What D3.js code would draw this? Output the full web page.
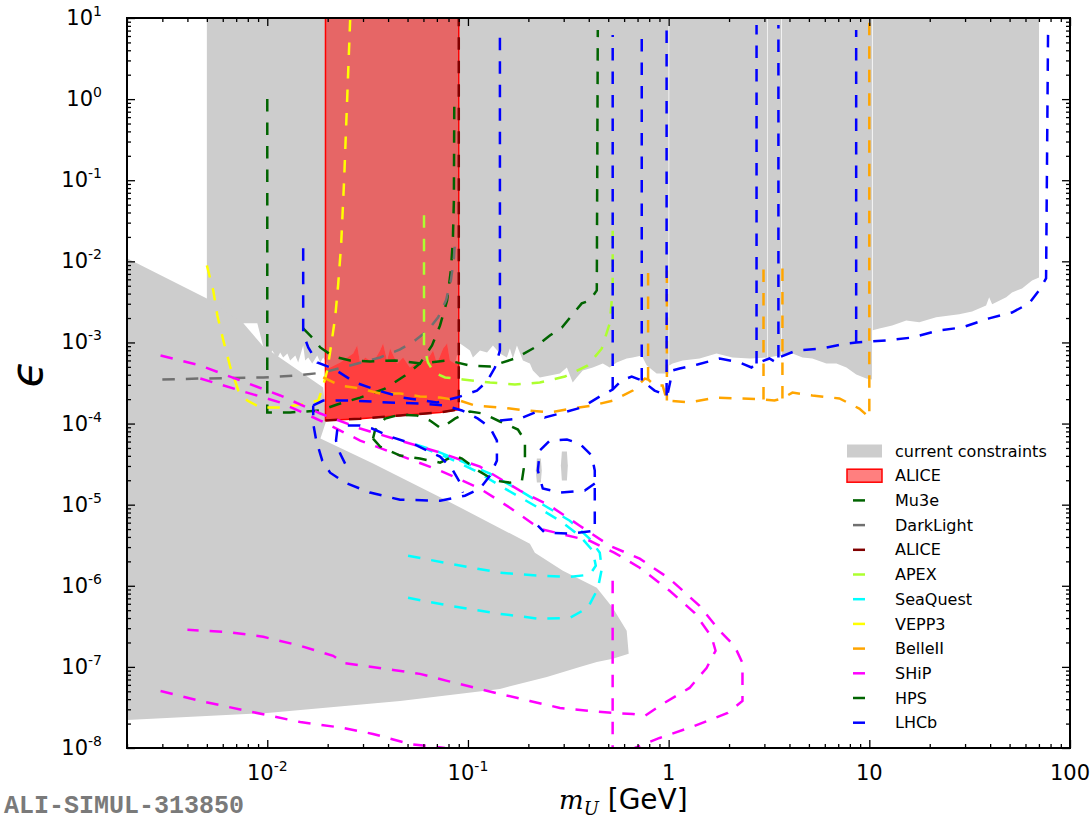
<!DOCTYPE html>
<html>
<head>
<meta charset="utf-8">
<script src="https://cdn.jsdelivr.net/npm/d3@7/dist/d3.min.js"></script>
<style>
  body { margin: 0; background: #fff; }
  svg { display: block; font-family: "DejaVu Sans", sans-serif; }
</style>
</head>
<body>
<div id="chart"></div>
<script>
// axis ranges and ticks
var massRange = [0.002, 100];
var epsRange = [1e-8, 10];
var xTicks = [0.01, 0.1, 1, 10, 100];
var xTickText = ["10^-2", "10^-1", "1", "10", "100"];
var yTicks = [1e1, 1e0, 1e-1, 1e-2, 1e-3, 1e-4, 1e-5, 1e-6, 1e-7, 1e-8];
var yTickText = ["10^1", "10^0", "10^-1", "10^-2", "10^-3", "10^-4", "10^-5", "10^-6", "10^-7", "10^-8"];

// current constraints: lower edge of the excluded band at large epsilon
var constraintEdge = [
  [0.005, 1.22e-3], [0.00751, 1.22e-3], [0.0076, 1.72e-3], [0.00892, 1.72e-3],
  [0.00955, 8.93e-4], [0.0101, 6.34e-4], [0.0106, 7.96e-4], [0.0112, 6.34e-4],
  [0.0116, 7.53e-4], [0.012, 6.53e-4], [0.0126, 7.32e-4], [0.013, 6.0e-4],
  [0.0138, 6.91e-4], [0.01426, 5.66e-4], [0.0151, 9.18e-4], [0.01545, 6.0e-4],
  [0.016, 6.53e-4], [0.01675, 5.5e-4], [0.01774, 6.91e-4], [0.01837, 5.66e-4],
  [0.019, 6.53e-4], [0.02057, 4.91e-4], [0.02307, 5.66e-4], [0.0268, 7.32e-4],
  [0.02805, 9.18e-4], [0.02904, 5.5e-4], [0.03076, 6.53e-4], [0.03365, 5.66e-4],
  [0.03648, 7.96e-4], [0.03776, 9.7e-4], [0.03954, 6.0e-4], [0.04093, 8.43e-4],
  [0.04436, 5.5e-4], [0.04753, 6.53e-4], [0.0514, 4.91e-4], [0.05572, 5.66e-4],
  [0.0625, 6.0e-4], [0.067, 7.96e-4], [0.0701, 5.5e-4], [0.0752, 8.43e-4],
  [0.0787, 9.7e-4], [0.0813, 6.0e-4], [0.0861, 5.5e-4], [0.0912, 9.7e-4],
  [0.0944, 9.18e-4], [0.1023, 7.96e-4], [0.1059, 6.53e-4], [0.1148, 7.96e-4],
  [0.1245, 7.53e-4], [0.1332, 9.18e-4], [0.1443, 7.32e-4], [0.1563, 6.53e-4],
  [0.1618, 8.43e-4], [0.1675, 6.34e-4], [0.1754, 9.18e-4], [0.1879, 6.0e-4],
  [0.2035, 5.5e-4], [0.2106, 4.51e-4], [0.228, 3.7e-4], [0.2559, 3.91e-4],
  [0.2872, 4.14e-4], [0.3112, 4.91e-4], [0.3327, 3.21e-4], [0.3483, 3.7e-4],
  [0.3733, 4.51e-4], [0.4188, 4.91e-4], [0.4699, 5.5e-4], [0.5085, 4.91e-4],
  [0.5508, 5.66e-4], [0.618, 6.34e-4], [0.6622, 6.53e-4], [0.7345, 6.91e-4],
  [0.778, 5.2e-4], [0.871, 4.14e-4], [0.999, 4.14e-4], [0.999, 10], [1.007, 10],
  [1.007, 5.2e-4], [1.047, 5.5e-4], [1.175, 6.0e-4], [1.426, 6.34e-4], [1.733, 7.32e-4],
  [2.08, 6.53e-4], [2.529, 6.34e-4], [3.1, 6.53e-4], [3.1, 10], [3.125, 10],
  [3.125, 6.53e-4], [3.565, 6.91e-4], [3.63, 6.9e-4], [3.63, 10], [3.66, 10], [3.66, 6.9e-4],
  [4.14, 7.32e-4], [4.645, 6.53e-4], [5.2, 6.34e-4], [6.108, 5.5e-4], [6.855, 5.5e-4],
  [7.69, 4.91e-4], [8.61, 4.02e-4], [9.66, 3.59e-4], [10.3, 3.49e-4],
  [10.3, 10], [10.4, 10], [10.4, 1.41e-3], [11.22, 1.49e-3], [13.0, 1.62e-3],
  [15.28, 1.87e-3], [17.74, 1.77e-3], [21.53, 2.04e-3], [28.05, 2.22e-3],
  [32.52, 2.41e-3], [38.19, 2.86e-3], [39.55, 3.6e-3], [40.93, 2.95e-3],
  [48.1, 3.6e-3], [51.4, 4.14e-3], [57.7, 4.64e-3], [64.7, 5.82e-3], [70.1, 6.34e-3]
];

// current constraints: beam dump / supernova region at small epsilon
var constraintsLower = [
  [0.002, 1.09e-2], [0.005, 3.49e-3], [0.0076, 1.72e-3], [0.00955, 8.93e-4],
  [0.0106, 7.53e-4], [0.019, 2.78e-4], [0.0197, 1.09e-4], [0.0184, 6.53e-5],
  [0.03365, 3.21e-5], [0.0787, 1.12e-5], [0.2035, 3.3e-6], [0.2155, 2.55e-6],
  [0.2972, 1.53e-6], [0.4385, 9.45e-7], [0.5263, 5.35e-7], [0.618, 2.78e-7],
  [0.6324, 1.45e-7], [0.5263, 1.26e-7], [0.4385, 1.15e-7], [0.3606, 1e-7],
  [0.2472, 7.53e-8], [0.1443, 5.35e-8], [0.04592, 3.8e-8], [0.01, 2.7e-8],
  [0.002, 2.22e-8]
];
var constraintsBlobA = [[0.2205, 3.7e-5], [0.2307, 3.7e-5], [0.2333, 2.63e-5], [0.2307, 1.87e-5], [0.2205, 1.87e-5], [0.2178, 2.63e-5]];
var constraintsBlobB = [[0.2938, 4.51e-5], [0.3112, 4.51e-5], [0.3145, 3.03e-5], [0.3112, 1.98e-5], [0.2938, 1.98e-5], [0.2904, 3.03e-5]];

// ALICE projected region
var aliceMass = [0.0195, 0.09];
var aliceBottom = [[0.0195, 1.09e-4], [0.029, 1.15e-4], [0.0459, 1.26e-4], [0.0726, 1.37e-4], [0.09, 1.49e-4]];
var aliceLine = [[0.0195, 1.09e-4], [0.029, 1.15e-4], [0.0459, 1.26e-4], [0.0726, 1.37e-4], [0.09, 1.49e-4], [0.09, 10]];

var mu3e = [
  [0.01, 1], [0.01, 1.37e-4], [0.013, 1.37e-4], [0.0184, 1.45e-4], [0.0223, 1.72e-4],
  [0.029, 2.09e-4], [0.0386, 2.7e-4], [0.0486, 3.91e-4], [0.0577, 5.5e-4], [0.0662, 9.18e-4],
  [0.0726, 1.62e-3], [0.0787, 3.3e-3], [0.0822, 7.75e-3], [0.0841, 1.82e-2], [0.0851, 0.0566], [0.0855, 1]
];
var darkLight = [
  [0.003, 3.49e-4], [0.00464, 3.59e-4], [0.00955, 3.7e-4], [0.0141, 3.91e-4], [0.019, 4.26e-4],
  [0.02588, 5.2e-4], [0.03648, 6.53e-4], [0.04592, 8.2e-4], [0.05445, 1.06e-3], [0.0632, 1.41e-3],
  [0.071, 2.04e-3], [0.0778, 3.3e-3], [0.0822, 5.82e-3], [0.0851, 1.09e-2], [0.0861, 1.67e-2]
];
var apex = [
  [0.0604, 0.037], [0.0604, 9.18e-4], [0.0632, 5.66e-4], [0.0678, 4.26e-4], [0.0769, 3.7e-4],
  [0.0944, 3.49e-4], [0.1288, 3.21e-4], [0.1714, 3.03e-4], [0.228, 3.21e-4], [0.3041, 3.8e-4],
  [0.3954, 5.2e-4], [0.4645, 8.43e-4], [0.5085, 1.72e-3], [0.5263, 4.38e-3], [0.5263, 0.037]
];
var seaQuestOuter = [
  [0.0503, 7.11e-7], [0.0813, 5.66e-7], [0.1443, 4.51e-7], [0.228, 3.91e-7], [0.3217, 4.03e-7],
  [0.3954, 5.35e-7], [0.4436, 9.18e-7], [0.4645, 1.62e-6], [0.4539, 2.55e-6], [0.4045, 3.8e-6],
  [0.3217, 6.34e-6], [0.2415, 9.7e-6], [0.1816, 1.49e-5], [0.1288, 2.41e-5], [0.0912, 3.49e-5],
  [0.0686, 4.64e-5], [0.0514, 5.83e-5]
];
var seaQuestInner = [
  [0.0503, 2.35e-6], [0.0813, 1.87e-6], [0.1443, 1.45e-6], [0.228, 1.33e-6], [0.3217, 1.29e-6],
  [0.4045, 1.37e-6], [0.4335, 1.77e-6], [0.4188, 2.7e-6], [0.3606, 4.14e-6], [0.2872, 6.34e-6],
  [0.2155, 9.7e-6], [0.1528, 1.58e-5], [0.1083, 2.63e-5], [0.0813, 3.7e-5], [0.05768, 5.2e-5]
];
var vepp3 = [
  [0.005, 8.93e-3], [0.00538, 4.38e-3], [0.00564, 2.15e-3], [0.00604, 1.06e-3], [0.00655, 4.91e-4],
  [0.00718, 2.55e-4], [0.00795, 1.92e-4], [0.00923, 1.58e-4], [0.0123, 1.58e-4], [0.01545, 1.77e-4],
  [0.01795, 1.92e-4], [0.019, 2.95e-4], [0.0199, 4.51e-4], [0.0208, 9.18e-4], [0.0218, 2.04e-3],
  [0.02254, 5.05e-3], [0.02333, 1.58e-2], [0.02415, 0.1], [0.025, 0.972], [0.02588, 9.44]
];
var belle2 = [
  [0.019, 3.7e-4], [0.02307, 2.95e-4], [0.02904, 2.7e-4], [0.03648, 2.35e-4], [0.04592, 2.35e-4],
  [0.05768, 2.16e-4], [0.0726, 2.09e-4], [0.0912, 1.92e-4], [0.1083, 1.67e-4], [0.1443, 1.58e-4],
  [0.1968, 1.45e-4], [0.2559, 1.37e-4], [0.3292, 1.53e-4], [0.4188, 1.67e-4], [0.5263, 1.92e-4],
  [0.6622, 2.55e-4], [0.7603, 3.59e-4], [0.79, 3.5e-4], [0.8511, 2.95e-4], [0.9333, 2.95e-4],
  [0.98, 1.92e-4], [1.271, 1.82e-4], [1.733, 2.09e-4], [2.254, 2.04e-4], [2.97, 1.98e-4],
  [3.366, 1.92e-4], [3.69, 2.04e-4], [4.14, 2.41e-4], [5.2, 2.22e-4], [7.096, 2.04e-4],
  [8.913, 1.53e-4], [10.0, 1.19e-4], [10.0, 8.93]
];
// resonance vetoes: [mass, eps from, eps to]
var belle2Vetoes = [[0.79, 3.5e-4, 9.72e-3], [0.98, 1.92e-4, 9.72e-3], [2.97, 1.98e-4, 9.72e-3], [3.69, 2.04e-4, 9.72e-3]];
var shipA = [
  [0.00294, 6.91e-4], [0.00464, 5.2e-4], [0.00734, 3.4e-4], [0.0116, 2.22e-4], [0.01837, 1.33e-4],
  [0.02904, 8.68e-5], [0.04592, 6.17e-5], [0.0726, 4.39e-5], [0.1148, 2.94e-5], [0.1816, 1.49e-5],
  [0.2559, 9.7e-6], [0.3606, 5.5e-6], [0.5085, 3.12e-6], [0.7178, 2.16e-6], [1.0116, 1.22e-6],
  [1.426, 5.66e-7], [1.795, 2.78e-7], [2.128, 1.82e-7], [2.333, 1.12e-7], [2.333, 3.8e-8],
  [1.968, 2.7e-8], [1.346, 1.87e-8], [0.9016, 1.33e-8], [0.6776, 1e-8]
];
var shipB = [
  [0.00464, 3.59e-4], [0.00734, 2.55e-4], [0.0116, 1.82e-4], [0.01837, 1.09e-4], [0.02904, 6.17e-5],
  [0.04592, 4.03e-5], [0.0726, 2.63e-5], [0.1148, 1.58e-5], [0.1618, 9.18e-6], [0.228, 5.05e-6],
  [0.2872, 4.39e-6], [0.4045, 3.59e-6], [0.538, 2.55e-6], [0.7178, 1.67e-6], [1.0116, 8.68e-7],
  [1.346, 4.64e-7], [1.637, 2.35e-7], [1.713, 1.58e-7], [1.545, 9.7e-8], [1.271, 5.5e-8],
  [0.9333, 3.49e-8], [0.7603, 2.48e-8], [0.6622, 2.63e-8], [0.532, 2.7e-8], [0.4045, 2.86e-8],
  [0.2872, 3.12e-8], [0.2035, 3.8e-8], [0.1443, 4.64e-8], [0.0787, 6.72e-8], [0.05768, 8.2e-8],
  [0.0424, 9.18e-8], [0.02388, 1.12e-7], [0.0213, 1.37e-7], [0.0146, 1.82e-7], [0.00955, 2.35e-7],
  [0.00633, 2.7e-7], [0.004, 2.86e-7]
];
var shipC = [
  [0.00294, 5.05e-8], [0.00464, 3.8e-8], [0.00795, 2.86e-8], [0.0146, 2.09e-8], [0.02388, 1.77e-8],
  [0.03365, 1.49e-8], [0.0514, 1.12e-8], [0.0769, 1e-8]
];
var shipD = [[0.526, 1.15e-6], [0.526, 1e-8]];
var hpsPrompt = [
  [0.0151, 1.49e-3], [0.01675, 1.15e-3], [0.01837, 8.68e-4], [0.0213, 6.72e-4], [0.02588, 6.0e-4],
  [0.0325, 5.83e-4], [0.04335, 6.0e-4], [0.059, 5.5e-4], [0.0795, 6.0e-4], [0.1023, 5.2e-4],
  [0.1288, 5.05e-4], [0.1714, 6.34e-4], [0.2155, 8.68e-4], [0.2559, 1.22e-3], [0.2938, 1.53e-3],
  [0.3292, 2.15e-3], [0.369, 3.03e-3], [0.4045, 3.3e-3], [0.4385, 4.38e-3], [0.4436, 7.1]
];
var hpsDisplaced = [
  [0.03365, 6.53e-5], [0.03648, 5.2e-5], [0.04592, 4.03e-5], [0.05768, 3.7e-5], [0.0726, 3.3e-5],
  [0.0861, 4.03e-5], [0.0933, 3.7e-5], [0.1122, 2.63e-5], [0.1363, 1.98e-5], [0.1618, 1.87e-5],
  [0.1858, 1.98e-5], [0.1923, 3.49e-5], [0.1923, 6.17e-5], [0.1774, 8.43e-5], [0.1443, 1.06e-4],
  [0.1189, 1.33e-4], [0.1023, 1.41e-4], [0.0861, 1.15e-4], [0.0734, 8.68e-5], [0.0647, 1.09e-4],
  [0.0557, 1.26e-4], [0.0459, 1.29e-4], [0.0386, 1.15e-4], [0.0344, 8.2e-5], [0.03365, 6.53e-5]
];
var lhcbA = [
  [0.0151, 1.45e-2], [0.0151, 1.29e-3], [0.016, 8.68e-4], [0.01774, 5.66e-4], [0.0213, 4.77e-4],
  [0.02742, 3.21e-4], [0.03565, 2.55e-4], [0.04753, 2.09e-4], [0.0701, 1.82e-4], [0.0881, 2.09e-4],
  [0.1109, 2.55e-4], [0.1245, 3.3e-4], [0.1363, 4.91e-4], [0.1443, 7.96e-4], [0.1443, 7.1]
];
var lhcbB = [
  [0.01694, 1.67e-4], [0.019, 1.92e-4], [0.02649, 1.92e-4], [0.04, 1.82e-4], [0.05768, 1.77e-4],
  [0.0769, 1.67e-4], [0.0933, 1.45e-4], [0.1122, 1.15e-4], [0.1288, 8.93e-5], [0.1394, 6.17e-5],
  [0.1394, 3.49e-5], [0.1288, 2.28e-5], [0.1148, 1.58e-5], [0.0966, 1.29e-5], [0.0726, 1.12e-5],
  [0.04592, 1.15e-5], [0.0325, 1.41e-5], [0.02443, 1.87e-5], [0.02057, 2.48e-5], [0.0188, 3.49e-5],
  [0.01754, 6.17e-5], [0.01694, 1e-4], [0.01694, 1.67e-4]
];
var lhcbC = [
  [0.02443, 3.21e-5], [0.02307, 4.26e-5], [0.022, 6.17e-5], [0.0223, 8.2e-5], [0.02443, 9.45e-5],
  [0.02904, 9.45e-5], [0.03327, 8.68e-5], [0.04093, 6.91e-5], [0.05445, 5.5e-5], [0.0726, 3.91e-5],
  [0.0832, 2.78e-5], [0.0912, 1.87e-5], [0.0944, 1.41e-5]
];
var lhcbD = [
  [0.1443, 1.09e-4], [0.1816, 1.15e-4], [0.2155, 1.37e-4], [0.2415, 1.19e-4], [0.2872, 1.33e-4],
  [0.369, 1.58e-4], [0.4539, 2.16e-4], [0.5263, 2.63e-4], [0.5834, 3.4e-4], [0.6546, 3.8e-4],
  [0.7345, 3.4e-4], [0.8511, 2.55e-4], [0.977, 2.22e-4], [0.99, 2.35e-4], [1.047, 4.51e-4],
  [1.135, 4.77e-4], [1.393, 5.35e-4], [1.795, 6.34e-4], [2.254, 5.66e-4], [2.588, 4.91e-4],
  [2.742, 5.5e-4], [3.177, 6.34e-4], [3.444, 5.66e-4], [3.524, 6.5e-4], [4.335, 7.96e-4],
  [5.768, 8.43e-4], [7.69, 9.7e-4], [8.6, 1e-3], [12.16, 1.06e-3], [16.37, 1.15e-3],
  [22.28, 1.41e-3], [29.04, 1.53e-3], [39.55, 1.98e-3], [51.4, 2.34e-3], [62.5, 3.03e-3],
  [70.1, 4.38e-3], [76.0, 6.17e-3], [77.8, 8.2]
];
var lhcbVetoes = [[0.5263, 2.63e-4, 6.17], [0.7345, 3.4e-4, 7.1], [0.977, 2.22e-4, 8.93],
  [2.742, 5.5e-4, 8.2], [3.524, 6.5e-4, 8.2], [8.6, 1e-3, 7.1]];
var lhcbE = [
  [0.4285, 1.82e-5], [0.382, 1.49e-5], [0.2872, 1.41e-5], [0.236, 1.58e-5], [0.223, 2.63e-5],
  [0.228, 4.64e-5], [0.2559, 6.17e-5], [0.3112, 6.34e-5], [0.3606, 5.66e-5], [0.414, 4.03e-5],
  [0.4285, 2.63e-5], [0.4285, 4.77e-6], [0.3217, 4.39e-6], [0.2415, 4.51e-6], [0.223, 5.5e-6]
];

var legendNames = ["Mu3e", "DarkLight", "ALICE", "APEX", "SeaQuest", "VEPP3", "BelleII", "SHiP", "HPS", "LHCb"];
var lineColors = ["#006400", "#707070", "#800000", "#adff2f", "#00ffff", "#ffff00", "#ffa500", "#ff00ff", "#006400", "#0000ff"];

function vetoLines(list) {
  return list.map((v) => [[v[0], v[1]], [v[0], v[2]]]);
}

var lineSets = [[mu3e], [darkLight], [aliceLine], [apex], [seaQuestOuter, seaQuestInner], [vepp3],
  [belle2].concat(vetoLines(belle2Vetoes)),
  [shipA, shipB, shipC, shipD], [hpsPrompt, hpsDisplaced],
  [lhcbA, lhcbB, lhcbC, lhcbD, lhcbE].concat(vetoLines(lhcbVetoes))];

drawChart();

function drawChart() {
  var dim = { width: 1092, height: 822, left: 127, right: 1070, top: 18, bottom: 748 };
  var grayFill = "#cdcdcd";

  var x = d3.scaleLog().domain(massRange).range([dim.left, dim.right]);
  var y = d3.scaleLog().domain(epsRange).range([dim.bottom, dim.top]);

  var svg = d3.select("#chart").append("svg")
    .attr("width", dim.width)
    .attr("height", dim.height);

  svg.append("clipPath").attr("id", "plotClip")
    .append("rect")
    .attr("x", dim.left).attr("y", dim.top)
    .attr("width", dim.right - dim.left).attr("height", dim.bottom - dim.top);

  var g = svg.append("g").attr("clip-path", "url(#plotClip)");
  var line = d3.line().x((d) => x(d[0])).y((d) => y(d[1]));

  // grey: current constraints
  var topEps = epsRange[1];
  var upper = [[constraintEdge[0][0], topEps]].concat(constraintEdge, [[constraintEdge[constraintEdge.length - 1][0], topEps]]);
  [upper, constraintsLower, constraintsBlobA, constraintsBlobB].forEach(function (poly) {
    g.append("path").attr("d", line(poly) + "Z").attr("fill", grayFill);
  });

  // red: ALICE, second layer where it sits below the current limit
  var aliceRegion = aliceBottom.concat([[aliceMass[1], topEps], [aliceMass[0], topEps]]);
  g.append("path").attr("d", line(aliceRegion) + "Z")
    .attr("fill", "rgba(255,0,0,0.5)")
    .attr("stroke", "#ff0000").attr("stroke-width", 1.5);

  var inside = constraintEdge.filter((d) => d[0] > aliceMass[0] && d[0] < aliceMass[1]);
  var aliceLow = [[aliceMass[0], inside[0][1]]].concat(inside, [[aliceMass[1], inside[inside.length - 1][1]]], aliceBottom.slice().reverse());
  g.append("path").attr("d", line(aliceLow) + "Z").attr("fill", "rgba(255,0,0,0.5)");

  // projections
  lineSets.forEach(function (set, i) {
    set.forEach(function (data) {
      g.append("path")
        .attr("d", line(data))
        .attr("fill", "none")
        .attr("stroke", lineColors[i])
        .attr("stroke-width", 2.5)
        .attr("stroke-dasharray", "12.5,11");
    });
  });

  // ticks on all four sides, pointing in
  var xMinor = x.ticks().filter((v) => xTicks.indexOf(v) < 0);
  var yMinor = y.ticks().filter((v) => yTicks.indexOf(v) < 0);
  var sides = [
    [d3.axisBottom, x, "translate(0," + dim.bottom + ")", xTicks, xMinor],
    [d3.axisTop, x, "translate(0," + dim.top + ")", xTicks, xMinor],
    [d3.axisLeft, y, "translate(" + dim.left + ",0)", yTicks, yMinor],
    [d3.axisRight, y, "translate(" + dim.right + ",0)", yTicks, yMinor],
  ];
  sides.forEach(function (s) {
    [[s[3], -8], [s[4], -4]].forEach(function (t) {
      svg.append("g")
        .attr("transform", s[2])
        .call(s[0](s[1]).tickValues(t[0]).tickSize(t[1]).tickSizeOuter(0).tickFormat(""))
        .call((a) => a.select(".domain").remove())
        .selectAll("line").attr("stroke", "#000").attr("stroke-width", 1.3);
    });
  });

  svg.append("rect")
    .attr("x", dim.left).attr("y", dim.top)
    .attr("width", dim.right - dim.left).attr("height", dim.bottom - dim.top)
    .attr("fill", "none").attr("stroke", "#000").attr("stroke-width", 2);

  function powLabel(sel, txt) {
    var parts = txt.split("^");
    sel.append("tspan").text(parts[0]);
    if (parts[1]) sel.append("tspan").attr("font-size", 14).attr("dy", -9).text(parts[1]);
  }

  xTicks.forEach(function (v, i) {
    svg.append("text")
      .attr("x", x(v)).attr("y", 780)
      .attr("text-anchor", "middle")
      .attr("font-size", 21)
      .call(powLabel, xTickText[i]);
  });
  yTicks.forEach(function (v, i) {
    svg.append("text")
      .attr("x", dim.left - 25).attr("y", y(v) + 7)
      .attr("text-anchor", "end")
      .attr("font-size", 21)
      .call(powLabel, yTickText[i]);
  });

  // axis titles
  svg.append("text")
    .attr("transform", "translate(42,374) rotate(-90)")
    .attr("text-anchor", "middle")
    .attr("font-size", 44)
    .attr("font-style", "italic")
    .text("\u03f5");

  var xt = svg.append("text").attr("x", 559).attr("y", 809);
  xt.append("tspan").attr("font-family", "DejaVu Serif").attr("font-style", "italic").attr("font-size", 26).text("m");
  xt.append("tspan").attr("font-family", "DejaVu Serif").attr("font-style", "italic").attr("font-size", 18).attr("dy", 6).text("U");
  xt.append("tspan").attr("font-size", 28).attr("dy", -6).text(" [GeV]");

  svg.append("text")
    .attr("x", 4).attr("y", 813)
    .attr("font-family", "Liberation Mono, monospace")
    .attr("font-weight", "bold")
    .attr("font-size", 25)
    .attr("fill", "#7a7a7a")
    .text("ALI-SIMUL-313850");

  // legend
  var lg = svg.append("g").attr("font-size", 16);
  var rowY = (i) => 451 + i * 24.7;
  lg.append("rect").attr("x", 847).attr("y", rowY(0) - 6.5).attr("width", 35).attr("height", 13).attr("fill", grayFill);
  lg.append("rect").attr("x", 847).attr("y", rowY(1) - 6.5).attr("width", 35).attr("height", 13)
    .attr("fill", "rgba(255,0,0,0.5)").attr("stroke", "#ff0000").attr("stroke-width", 1.5);
  ["current constraints", "ALICE"].concat(legendNames).forEach(function (name, i) {
    lg.append("text").attr("x", 895).attr("y", rowY(i)).attr("dy", "0.35em").text(name);
    if (i > 1) {
      lg.append("line")
        .attr("x1", 853).attr("x2", 865)
        .attr("y1", rowY(i)).attr("y2", rowY(i))
        .attr("stroke", lineColors[i - 2]).attr("stroke-width", 2.5);
    }
  });
}
</script>
</body>
</html>
